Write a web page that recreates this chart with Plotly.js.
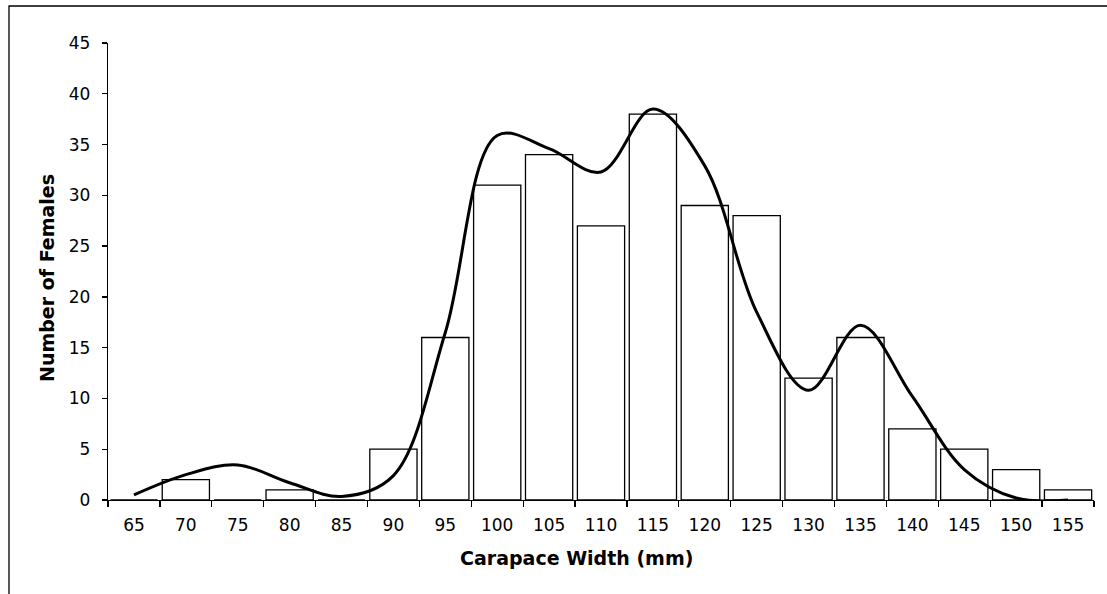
<!DOCTYPE html>
<html>
<head>
<meta charset="utf-8">
<script src="https://cdn.plot.ly/plotly-3.0.1.min.js"></script>
<style>html,body{margin:0;padding:0;background:#fff;}#chart{width:1107px;height:594px;}</style>
</head>
<body>
<div id="chart"></div>
<script>
var categories = ["65","70","75","80","85","90","95","100","105","110","115","120","125","130","135","140","145","150","155"];
var femaleCounts = [0,2,0,1,0,5,16,31,34,27,38,29,28,12,16,7,5,3,1];
var smoothCurve = [0.5,2.5,3.45,1.7,0.35,2.4,16.5,35.9,34.6,32.3,38.5,32.9,18.5,10.8,17.2,10.2,3.0,0.2,0];
var yTicks = [0,5,10,15,20,25,30,35,40,45];

var W = 1107, H = 594;
var mL = 108, mR = 13, mT = 43, mB = 94;
var pw = W - mL - mR, ph = H - mT - mB;
function px2x(p){ return (p - mL) / pw; }
function px2y(p){ return (H - mB - p) / ph; }

var font = "DejaVu Sans, Verdana, sans-serif";

var traces = [
  {
    type: "bar",
    x: categories,
    y: femaleCounts,
    marker: {color: "#ffffff", line: {color: "#000000", width: 1.3}},
    hoverinfo: "x+y"
  },
  {
    type: "scatter",
    mode: "lines",
    x: categories,
    y: smoothCurve,
    line: {color: "#000000", width: 3, shape: "spline", smoothing: 1},
    hoverinfo: "x+y"
  }
];

var layout = {
  width: W, height: H,
  margin: {l: mL, r: mR, t: mT, b: mB, pad: 0},
  paper_bgcolor: "#ffffff",
  plot_bgcolor: "#ffffff",
  showlegend: false,
  bargap: 0.09,
  font: {family: font, color: "#000000", size: 17},
  xaxis: {
    type: "category",
    categoryorder: "array",
    categoryarray: categories,
    range: [-0.5, categories.length - 0.5],
    tickson: "boundaries",
    ticks: "outside",
    ticklen: 6,
    tickwidth: 1.3,
    tickcolor: "#000000",
    ticklabelstandoff: 9,
    showline: true,
    linecolor: "#000000",
    linewidth: 1.3,
    showgrid: false,
    zeroline: false,
    tickfont: {family: font, size: 17, color: "#000000"},
    fixedrange: true
  },
  yaxis: {
    range: [0, 45],
    tickmode: "array",
    tickvals: yTicks,
    ticktext: yTicks.map(String),
    ticks: "outside",
    ticklen: 5,
    tickwidth: 1.3,
    tickcolor: "#000000",
    ticklabelstandoff: 8,
    showline: true,
    linecolor: "#000000",
    linewidth: 1.3,
    showgrid: false,
    zeroline: false,
    tickfont: {family: font, size: 17, color: "#000000"},
    fixedrange: true
  },
  annotations: [
    {
      text: "<b>Carapace Width (mm)</b>",
      xref: "paper", yref: "paper",
      x: px2x(576.5), y: px2y(558),
      xanchor: "center", yanchor: "middle",
      showarrow: false,
      font: {family: font, size: 19, color: "#000000"}
    },
    {
      text: "<b>Number of Females</b>",
      xref: "paper", yref: "paper",
      x: px2x(47), y: px2y(278),
      xanchor: "center", yanchor: "middle",
      textangle: -90,
      showarrow: false,
      font: {family: font, size: 19, color: "#000000"}
    }
  ],
  shapes: [
    {
      type: "rect", xref: "paper", yref: "paper",
      x0: px2x(9), x1: px2x(1112), y0: px2y(600), y1: px2y(6),
      line: {color: "#000000", width: 1.3},
      fillcolor: "rgba(0,0,0,0)",
      layer: "above"
    }
  ]
};

Plotly.newPlot("chart", traces, layout, {displayModeBar: false, staticPlot: true});
</script>
</body>
</html>
